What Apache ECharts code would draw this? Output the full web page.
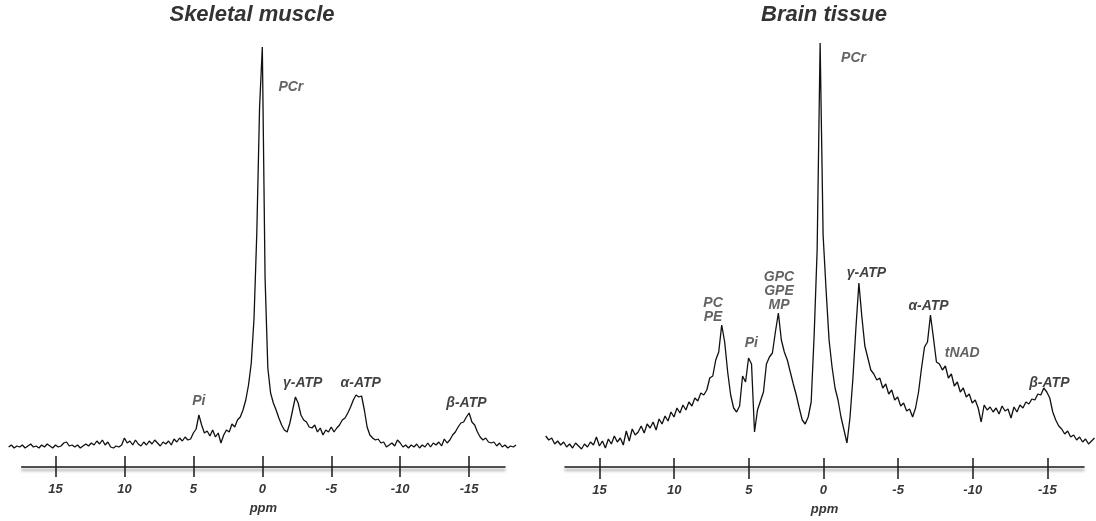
<!DOCTYPE html>
<html>
<head>
<meta charset="utf-8">
<script src="https://cdn.jsdelivr.net/npm/echarts@6/dist/echarts.min.js"></script>
<style>
  html, body { margin: 0; padding: 0; background: #ffffff; }
  #chart { width: 1096px; height: 521px; }
</style>
</head>
<body>
<div id="chart"></div>
<script>
// 31P MR spectra (arbitrary intensity units), sampled every 0.2 ppm from high to low shift
const ppmStep = -0.2;

const muscleStartPpm = 18.4;
const muscleIntensity = [
  1, 3, 0, 2, 1, 3, 0, 2, 4, 1,
  2, 0, 3, 1, 4, 2, 0, 3, 1, 2,
  5, 6, 2, 3, 1, 3, 0, 2, 4, 2,
  5, 3, 7, 4, 8, 3, 6, 1, 0, 2,
  1, 3, 10, 5, 7, 3, 8, 4, 2, 6,
  3, 7, 4, 8, 5, 2, 6, 4, 7, 3,
  9, 6, 10, 7, 11, 8, 9, 15, 19, 33,
  23, 15, 17, 12, 18, 11, 15, 5, 13, 18,
  16, 24, 21, 28, 31, 38, 48, 63, 85, 130,
  215, 340, 401,
  170, 80, 55, 45, 38, 30, 23, 18, 16, 25,
  38, 51, 45, 33, 28, 26, 21, 20, 23, 16,
  20, 13, 18, 16, 21, 16, 20, 23, 28, 30,
  35, 41, 48, 53, 51, 52, 38, 21, 13, 10,
  8, 9, 5, 6, 1, 3, 5, 2, 8, 5,
  1, 3, 0, 3, 1, 4, 0, 3, 1, 5,
  1, 5, 3, 6, 2, 9, 5, 8, 13, 16,
  21, 25, 26, 31, 35, 26, 23, 16, 11, 8,
  10, 6, 5, 6, 2, 5, 1, 3, 0, 2,
  1, 3
];

const brainStartPpm = 18.6;
const brainIntensity = [
  14, 10, 12, 6, 9, 5, 8, 3, 6, 2,
  7, 4, 1, 6, 3, 8, 5, 13, 4, 9,
  2, 11, 6, 14, 8, 12, 5, 19, 9, 21,
  15, 18, 24, 17, 26, 22, 28, 20, 31, 26,
  34, 29, 38, 33, 42, 37, 45, 40, 48, 44,
  52, 49, 57, 55, 60, 72, 74, 90, 98, 125,
  108, 78, 55, 42, 38, 44, 74, 68, 92, 86,
  18, 40, 49, 58, 86, 93, 97, 118, 137, 110,
  98, 90, 78, 66, 55, 42, 30, 26, 33, 48,
  115, 200, 407, 215, 160, 110, 83, 62, 50, 33,
  20, 7, 32, 72, 122, 167, 133, 104, 92, 80,
  76, 70, 72, 62, 66, 56, 60, 50, 53, 44,
  47, 39, 41, 33, 42, 58, 82, 103, 108, 135,
  112, 88, 86, 80, 84, 72, 76, 64, 68, 58,
  62, 53, 56, 47, 50, 42, 28, 45, 40, 43,
  38, 42, 36, 44, 39, 41, 32, 43, 38, 45,
  42, 48, 46, 51, 50, 56, 55, 62, 58, 52,
  38, 30, 24, 21, 16, 19, 13, 15, 10, 13,
  8, 11, 6, 9, 12
];

const tickValues = [15, 10, 5, 0, -5, -10, -15];

// Peak annotations: text, anchor shift (ppm), anchor height (intensity units)
const muscleLabelText = ['PCr', 'Pi', 'γ-ATP', 'α-ATP', 'β-ATP'];
const muscleLabelPpm = [-2.07, 4.6, -2.93, -7.14, -14.8];
const muscleLabelHeight = [361, 47, 65, 65, 45];
const muscleLabelDark = [false, false, true, true, true];

const brainLabelText = ['PCr', 'PC\nPE', 'Pi', 'GPC\nGPE\nMP', 'γ-ATP', 'α-ATP', 'tNAD', 'β-ATP'];
const brainLabelPpm = [-2.04, 7.38, 4.81, 2.96, -2.91, -7.07, -9.33, -15.17];
const brainLabelHeight = [392, 140, 107, 159, 177, 144, 97, 67];
const brainLabelDark = [false, false, false, false, true, true, false, true];

function toPairs(startPpm, values) {
  return values.map((v, i) => [+(startPpm + i * ppmStep).toFixed(1), v]);
}

function labelData(texts, ppms, heights, dark) {
  return texts.map((t, i) => ({
    value: [ppms[i], heights[i]],
    label: { formatter: t, color: dark[i] ? '#111111' : '#3c3c3c' }
  }));
}

const FONT = '"Liberation Sans", Arial, sans-serif';

// Panel geometry. The ruler (axis) spans [axisMin, axisMax]; the trace spans the wider
// [dataMin, dataMax]. Both share one ppm-to-pixel scale (pxPerPpm) and zero position.
const panels = [
  { axisLeft: 21.7, axisWidth: 483.3, axisMin: -17.6, axisMax: 17.45, dataMin: -18.5, dataMax: 18.5,
    top: 38, height: 429, yMin: -19, yMax: 410, labelMargin: 16, nameGap: 35 },
  { axisLeft: 565, axisWidth: 519, axisMin: -17.45, axisMax: 17.31, dataMin: -18.3, dataMax: 18.7,
    top: 30, height: 439, yMin: -19, yMax: 420, labelMargin: 17, nameGap: 36.5 }
];
panels.forEach(p => {
  p.pxPerPpm = p.axisWidth / (p.axisMax - p.axisMin);
  p.zeroX = p.axisLeft + p.axisMax * p.pxPerPpm;
  p.dataLeft = p.zeroX - p.dataMax * p.pxPerPpm;
  p.dataWidth = (p.dataMax - p.dataMin) * p.pxPerPpm;
});

const grids = [];
const xAxes = [];
const yAxes = [];

function addGrid(left, width, p, xAxisOpt) {
  const idx = grids.length;
  grids.push({ left: left, top: p.top, width: width, height: p.height, containLabel: false });
  xAxes.push(Object.assign({ type: 'value', gridIndex: idx, inverse: true,
    splitLine: { show: false } }, xAxisOpt));
  yAxes.push({ type: 'value', gridIndex: idx, min: p.yMin, max: p.yMax, show: false });
  return idx;
}

// data grids (0, 1): trace and peak labels, no visible axis
panels.forEach(p => {
  p.dataGrid = addGrid(p.dataLeft, p.dataWidth, p, { min: p.dataMin, max: p.dataMax, show: false });
});

// ruler grids: shaded baseline with tick labels and the ppm caption
panels.forEach(p => {
  addGrid(p.axisLeft, p.axisWidth, p, {
    min: p.axisMin, max: p.axisMax,
    axisLine: { show: true, onZero: false,
      lineStyle: { color: '#1a1a1a', width: 1.6, shadowColor: 'rgba(0,0,0,0.45)', shadowBlur: 3, shadowOffsetY: 3 } },
    axisTick: { show: false },
    axisLabel: { show: true, customValues: tickValues, margin: p.labelMargin,
      fontFamily: FONT, fontSize: 13, fontWeight: 'bold', fontStyle: 'italic', color: '#363636' },
    name: 'ppm', nameLocation: 'middle', nameGap: p.nameGap,
    nameTextStyle: { fontFamily: FONT, fontSize: 13, fontWeight: 'bold', fontStyle: 'italic', color: '#363636' }
  });
});

// tick grids: marks crossing the baseline (axis raised 11 px, ticks 21 px long)
panels.forEach(p => {
  addGrid(p.axisLeft, p.axisWidth, p, {
    min: p.axisMin, max: p.axisMax, offset: -11,
    axisLine: { show: false, onZero: false },
    axisTick: { show: true, inside: false, length: 21, customValues: tickValues,
      lineStyle: { color: '#1a1a1a', width: 1.5 } },
    axisLabel: { show: false }
  });
});

const lineCommon = {
  type: 'line', showSymbol: false, symbol: 'none', clip: false, silent: true,
  animation: false,
  lineStyle: { color: '#111111', width: 1.3 }
};

const labelCommon = {
  type: 'scatter', symbolSize: 1, silent: true, animation: false, clip: false,
  itemStyle: { color: 'rgba(0,0,0,0)' },
  label: { show: true, position: 'inside', fontFamily: FONT, fontSize: 14,
    fontWeight: 'bold', fontStyle: 'italic', lineHeight: 14, align: 'center' }
};

const option = {
  backgroundColor: '#ffffff',
  animation: false,
  grid: grids,
  xAxis: xAxes,
  yAxis: yAxes,
  graphic: [
    { type: 'text', x: 252, y: 15, silent: true,
      style: { text: 'Skeletal muscle', fill: '#333333', font: 'italic bold 22px ' + FONT,
        textAlign: 'center', textVerticalAlign: 'middle' } },
    { type: 'text', x: 824, y: 15, silent: true,
      style: { text: 'Brain tissue', fill: '#333333', font: 'italic bold 22px ' + FONT,
        textAlign: 'center', textVerticalAlign: 'middle' } }
  ],
  series: [
    Object.assign({}, lineCommon, { name: 'Skeletal muscle',
      xAxisIndex: panels[0].dataGrid, yAxisIndex: panels[0].dataGrid,
      data: toPairs(muscleStartPpm, muscleIntensity) }),
    Object.assign({}, lineCommon, { name: 'Brain tissue',
      xAxisIndex: panels[1].dataGrid, yAxisIndex: panels[1].dataGrid,
      data: toPairs(brainStartPpm, brainIntensity) }),
    Object.assign({}, labelCommon, { xAxisIndex: panels[0].dataGrid, yAxisIndex: panels[0].dataGrid,
      data: labelData(muscleLabelText, muscleLabelPpm, muscleLabelHeight, muscleLabelDark) }),
    Object.assign({}, labelCommon, { xAxisIndex: panels[1].dataGrid, yAxisIndex: panels[1].dataGrid,
      data: labelData(brainLabelText, brainLabelPpm, brainLabelHeight, brainLabelDark) })
  ]
};

const chart = echarts.init(document.getElementById('chart'), null, { renderer: 'canvas' });
chart.setOption(option);
</script>
</body>
</html>
